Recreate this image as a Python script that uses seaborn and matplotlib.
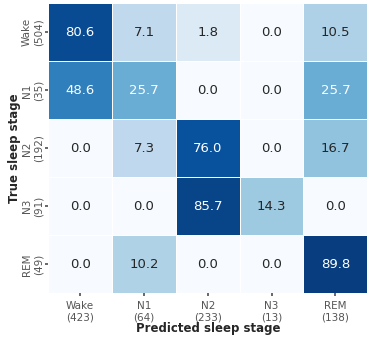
import numpy as np
import pandas as pd
import matplotlib
matplotlib.use("Agg")
import matplotlib.pyplot as plt
import seaborn as sns
from matplotlib.colors import PowerNorm

# Confusion matrix (row-normalised percentages)
stages = ['Wake', 'N1', 'N2', 'N3', 'REM']
true_counts = [504, 35, 192, 91, 49]
pred_counts = [423, 64, 233, 13, 138]
cm = [
    [80.6, 7.1, 1.8, 0.0, 10.5],
    [48.6, 25.7, 0.0, 0.0, 25.7],
    [0.0, 7.3, 76.0, 0.0, 16.7],
    [0.0, 0.0, 85.7, 14.3, 0.0],
    [0.0, 10.2, 0.0, 0.0, 89.8],
]

ylabels = [f"{s}\n({n})" for s, n in zip(stages, true_counts)]
xlabels = [f"{s}\n({n})" for s, n in zip(stages, pred_counts)]
df = pd.DataFrame(cm, index=ylabels, columns=xlabels)

sns.set_theme(style="ticks")
plt.rcParams['font.family'] = ['DejaVu Sans']

fig, ax = plt.subplots(figsize=(3.71, 3.41), dpi=100)
sns.heatmap(df, annot=True, fmt=".1f", cmap="Blues",
            norm=PowerNorm(gamma=0.5, vmin=0, vmax=100),
            cbar=False, linewidths=0.6, linecolor="white",
            annot_kws={"size": 9.5}, ax=ax)
ax.set_xlabel("Predicted sleep stage", fontsize=8.5, fontweight="bold", labelpad=0)
ax.set_ylabel("True sleep stage", fontsize=8.5, fontweight="bold", labelpad=1)
ax.tick_params(axis="both", labelsize=7.5, length=2, colors="#555555")
plt.setp(ax.get_yticklabels(), rotation=90, va="center", ha="center")
ax.tick_params(axis="y", pad=9)
plt.setp(ax.get_xticklabels(), rotation=0)
fig.subplots_adjust(left=0.13, right=0.99, top=0.99, bottom=0.14)
plt.savefig("out.png", dpi=100)
